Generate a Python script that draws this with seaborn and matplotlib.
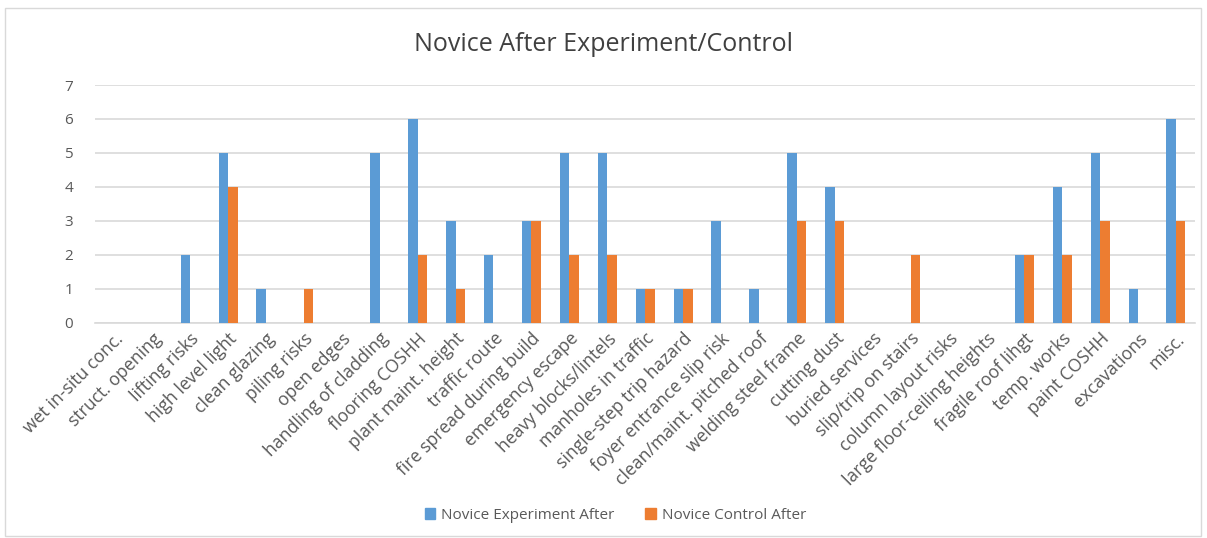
import matplotlib
matplotlib.use("Agg")
import matplotlib.pyplot as plt
import matplotlib.patches as mpatches
import seaborn as sns
import pandas as pd

categories = [
    "wet in-situ conc.", "struct. opening", "lifting risks", "high level light",
    "clean glazing", "piling risks", "open edges", "handling of cladding",
    "flooring COSHH", "plant maint. height", "traffic route",
    "fire spread during build", "emergency escape", "heavy blocks/lintels",
    "manholes in traffic", "single-step trip hazard", "foyer entrance slip risk",
    "clean/maint. pitched roof", "welding steel frame", "cutting dust",
    "buried services", "slip/trip on stairs", "column layout risks",
    "large floor-ceiling heights", "fragile roof lihgt", "temp. works",
    "paint COSHH", "excavations", "misc.",
]
experiment_after = [0, 0, 2, 5, 1, 0, 0, 5, 6, 3, 2, 3, 5, 5, 1, 1, 3, 1, 5, 4,
                    0, 0, 0, 0, 2, 4, 5, 1, 6]
control_after = [0, 0, 0, 4, 0, 1, 0, 0, 2, 1, 0, 3, 2, 2, 1, 1, 0, 0, 3, 3,
                 0, 2, 0, 0, 2, 2, 3, 0, 3]
series_names = ["Novice Experiment After", "Novice Control After"]
colors = ["#5B9BD5", "#ED7D31"]

df = pd.DataFrame({
    "category": categories * 2,
    "value": experiment_after + control_after,
    "series": [series_names[0]] * len(categories) + [series_names[1]] * len(categories),
})

sns.set_style("white")
plt.rcParams["font.family"] = ["Open Sans", "DejaVu Sans"]

fig = plt.figure(figsize=(12.07, 5.38), dpi=100)
ax = fig.add_axes([0.079, 0.40, 0.911, 0.442])

sns.barplot(data=df, x="category", y="value", hue="series", palette=colors,
            width=0.5, gap=0, saturation=1, linewidth=0, ax=ax, legend=False, zorder=3)

ax.set_ylim(0, 7)
ax.set_yticks(range(8))
ax.set_xlim(-0.5, len(categories) - 0.5)
ax.grid(axis="y", color="#D9D9D9", linewidth=1.2, zorder=0)
ax.set_axisbelow(True)
for s in ["top", "right", "left"]:
    ax.spines[s].set_visible(False)
ax.spines["bottom"].set_color("#D9D9D9")
ax.spines["bottom"].set_linewidth(1.2)
ax.set_xlabel("")
ax.set_ylabel("")
ax.tick_params(axis="both", length=0, colors="#595959")
ax.tick_params(axis="y", pad=16, labelsize=11)
ax.tick_params(axis="x", labelsize=12.7, pad=5)
ax.set_xticks(range(len(categories)))
ax.set_xticklabels(categories, rotation=45, ha="right", rotation_mode="anchor")

fig.suptitle("Novice After Experiment/Control", y=0.94, fontsize=18, color="#404040")

handles = [mpatches.Patch(color=c, label=n) for c, n in zip(colors, series_names)]
fig.legend(handles=handles, loc="center", bbox_to_anchor=(0.51, 0.042), ncol=2,
           frameon=False, fontsize=11, labelcolor="#595959",
           handlelength=0.7, handleheight=0.7, columnspacing=2.0, handletextpad=0.4)

fig.patches.append(mpatches.Rectangle((0.004, 0.004), 0.991, 0.982, transform=fig.transFigure,
                                      fill=False, edgecolor="#D9D9D9", linewidth=1))

fig.savefig("out.png", dpi=100)
